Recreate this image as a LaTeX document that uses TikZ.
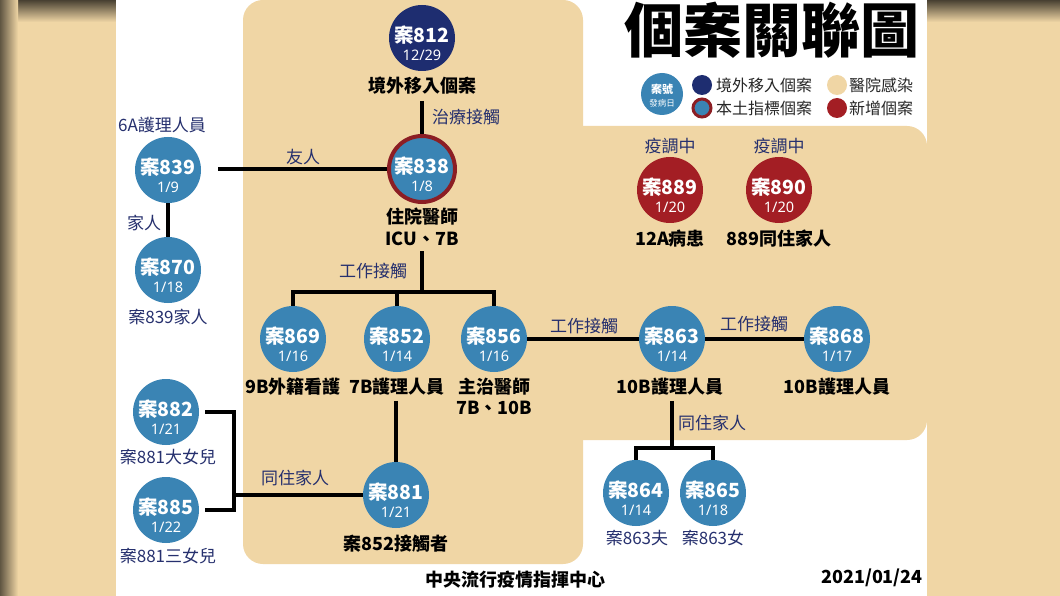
\documentclass[tikz,border=0pt]{standalone}
\usepackage{fontspec}
\setmainfont{Noto Sans CJK TC}
\newfontfamily\latinf{Noto Sans}
\usetikzlibrary{calc}
\definecolor{beige}{RGB}{240,214,165}
\definecolor{cblue}{RGB}{58,132,180}
\definecolor{cnavy}{RGB}{30,45,112}
\definecolor{cred}{RGB}{163,30,36}
\definecolor{tnavy}{RGB}{38,48,110}
\definecolor{ring}{RGB}{140,30,36}
\tikzset{
 case/.style={circle, fill=cblue, minimum size=66pt, inner sep=0pt},
 imported/.style={case, fill=cnavy},
 newcase/.style={case, fill=cred},
 index/.style={case, draw=ring, line width=4pt},
 cnum/.style={text=white, font=\fontsize{19.5}{20}\selectfont\bfseries, inner sep=0pt},
 cdate/.style={text=white, font=\fontsize{14.5}{15}\selectfont\latinf, inner sep=0pt},
 blab/.style={text=black, font=\fontsize{18}{22}\selectfont\bfseries, inner sep=0pt, align=center},
 nlab/.style={text=tnavy, font=\fontsize{17}{20}\selectfont, inner sep=0pt},
 legt/.style={text=black!85, font=\fontsize{16}{18}\selectfont, inner sep=0pt, anchor=west},
 dot/.style={circle, minimum size=20pt, inner sep=0pt},
 link/.style={line width=4pt, black},
}
\newcommand{\casenode}[5][case]{%
  \node[#1] (#2) at (#3) {};
  \node[cnum] (#2-n) at ([yshift=3pt]#2.center) {案#4};
  \node[cdate] (#2-d) at ([yshift=-17pt]#2.center) {#5};
}
\begin{document}
\begin{tikzpicture}[x=1pt,y=-1pt]
\useasboundingbox (0,0) rectangle (1060,596);
% background
\fill[beige] (0,0) rectangle (1060,596);
\shade[top color=black!70!beige, bottom color=beige] (0,0) rectangle (1060,22);
\shade[left color=black!60!beige, right color=beige] (0,0) rectangle (18,596);
\fill[white] (116,0) rectangle (927,596);
% hospital region
\fill[beige, rounded corners=20pt] (243,0) rectangle (583,564);
\fill[beige, rounded corners=20pt] (540,126) rectangle (927,440);

% title
\node[font=\fontsize{59}{59}\selectfont\bfseries, inner sep=0pt] (title) at (772,30) {個案關聯圖};
% legend
\node[case, minimum size=42pt] (lg) at (662,94) {};
\node[text=white, font=\fontsize{11}{11}\selectfont\bfseries, inner sep=0pt] (lg-n) at ([yshift=5pt]lg.center) {案號};
\node[text=white, font=\fontsize{8.5}{9}\selectfont, inner sep=0pt] (lg-d) at ([yshift=-9pt]lg.center) {發病日};
\node[dot, fill=cnavy] (d1) at (702,85) {};
\node[legt] (t1) at (716,85) {境外移入個案};
\node[dot, fill=beige] (d2) at (837,85) {};
\node[legt] (t2) at (849,85) {醫院感染};
\node[dot, fill=cblue, draw=ring, line width=3pt, minimum size=18pt] (d3) at (702,108) {};
\node[legt] (t3) at (716,108) {本土指標個案};
\node[dot, fill=cred] (d4) at (837,108) {};
\node[legt] (t4) at (849,108) {新增個案};

% cases
\casenode[imported]{n812}{422,38}{812}{12/29}
\casenode[index]{n838}{422,169}{838}{1/8}
\casenode{n839}{168,170}{839}{1/9}
\casenode{n870}{168,270}{870}{1/18}
\casenode{n869}{293,339}{869}{1/16}
\casenode{n852}{397,339}{852}{1/14}
\casenode{n856}{494,339}{856}{1/16}
\casenode{n863}{672,339}{863}{1/14}
\casenode{n868}{837,339}{868}{1/17}
\casenode{n864}{636,493}{864}{1/14}
\casenode{n865}{713,493}{865}{1/18}
\casenode{n881}{396,495}{881}{1/21}
\casenode{n882}{166,412}{882}{1/21}
\casenode{n885}{166,510}{885}{1/22}
\casenode[newcase]{n889}{670,190}{889}{1/20}
\casenode[newcase]{n890}{779,190}{890}{1/20}

% black labels
\node[blab] (l812) at (422,86) {境外移入個案};
\node[blab] (l838a) at (422,217) {住院醫師};
\node[blab] (l838b) at (422,239) {ICU、7B};
\node[blab] (l869) at (293,387) {9B外籍看護};
\node[blab] (l852) at (397,387) {7B護理人員};
\node[blab] (l856a) at (494,387) {主治醫師};
\node[blab] (l856b) at (494,408) {7B、10B};
\node[blab] (l863) at (670,387) {10B護理人員};
\node[blab] (l868) at (837,387) {10B護理人員};
\node[blab] (l881) at (396,544) {案852接觸者};
\node[blab] (l889) at (670,239) {12A病患};
\node[blab] (l890) at (779,239) {889同住家人};

% navy labels
\node[nlab] (l839) at (162,125) {6A護理人員};
\node[nlab] (l870) at (168,317) {案839家人};
\node[nlab] (l882) at (168,457) {案881大女兒};
\node[nlab] (l885) at (168,556) {案881三女兒};
\node[nlab] (l864) at (637,538) {案863夫};
\node[nlab] (l865) at (713,538) {案863女};
\node[nlab] (q889) at (670,146) {疫調中};
\node[nlab] (q890) at (779,146) {疫調中};

% connectors
\draw[link] ([yshift=-6pt]l812.south) -- (n838.north);
\node[nlab, anchor=west] (e1) at (432,117) {治療接觸};
\draw[link] ([xshift=17pt]n839.east |- n838.west) -- (n838.west);
\node[nlab] (e2) at (303,157) {友人};
\draw[link] (n839.south) -- (n870.north);
\node[nlab] (e3) at (144,223) {家人};

\coordinate (j838) at (422,292);
\draw[link] ([yshift=-5pt]l838b.south) -- (j838);
\draw[link] (n869.north) -- (n869.north |- j838) -- (n856.north |- j838) -- (n856.north);
\draw[link] (n852.north) -- (n852.north |- j838);
\node[nlab] (e4) at (373,271) {工作接觸};

\draw[link] (n856.east) -- (n863.west);
\node[nlab] (e5) at (584,326) {工作接觸};
\draw[link] (n863.east) -- (n868.west);
\node[nlab] (e6) at (754,324) {工作接觸};

\coordinate (j863) at (672,448);
\draw[link] ([yshift=-5pt]l863.south -| j863) -- (j863);
\draw[link] (n864.north) -- (n864.north |- j863) -- (n865.north |- j863) -- (n865.north);
\node[nlab] (e7) at (712,423) {同住家人};

\draw[link] ([yshift=-5pt]l852.south -| n881.north) -- (n881.north);

\coordinate (j881) at (234,495);
\draw[link] (n881.west) -- (j881);
\draw[link] ([xshift=6pt]n882.east) -- (n882.east -| j881) -- (n885.east -| j881) -- ([xshift=6pt]n885.east);
\node[nlab] (e8) at (295,478) {同住家人};

% footer
\node[font=\fontsize{18}{18}\selectfont\bfseries, inner sep=0pt] (src) at (515,580) {中央流行疫情指揮中心};
\node[font=\fontsize{18}{18}\selectfont\bfseries, inner sep=0pt] (date) at (872,578) {2021/01/24};
\end{tikzpicture}
\end{document}
